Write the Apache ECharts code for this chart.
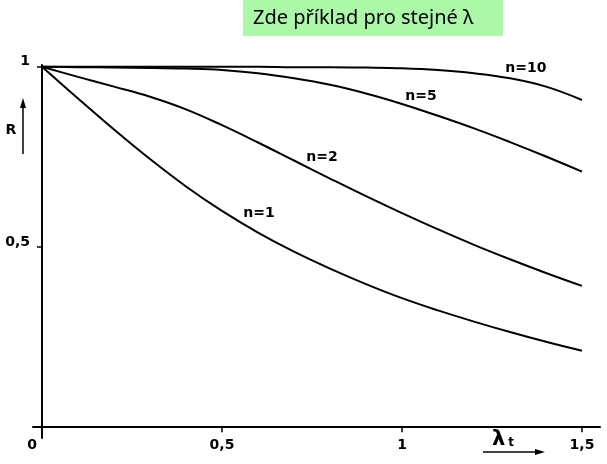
<!DOCTYPE html>
<html>
<head>
<meta charset="utf-8">
<script src="https://cdn.jsdelivr.net/npm/echarts@6/dist/echarts.min.js"></script>
<style>
html,body{margin:0;padding:0;background:#fff;}
#main{width:607px;height:464px;}
</style>
</head>
<body>
<div id="main"></div>
<script>
// λt hodnoty na ose x
var lambdaT = [0, 0.1, 0.2, 0.3, 0.4, 0.5, 0.6, 0.7, 0.8, 0.9, 1.0, 1.1, 1.2, 1.3, 1.4, 1.5];
// spolehlivost R pro n = 1, 2, 5, 10
var rN1  = [1, 0.912, 0.826, 0.744, 0.668, 0.6, 0.54, 0.487, 0.44, 0.397, 0.358, 0.324, 0.293, 0.264, 0.237, 0.212];
var rN2  = [1, 0.972, 0.945, 0.917, 0.882, 0.838, 0.79, 0.74, 0.69, 0.641, 0.594, 0.549, 0.506, 0.466, 0.428, 0.392];
var rN5  = [1, 0.999, 0.998, 0.997, 0.995, 0.991, 0.982, 0.968, 0.95, 0.926, 0.897, 0.864, 0.829, 0.791, 0.751, 0.709];
var rN10 = [1, 1, 1, 1, 1, 1, 1, 0.999, 0.999, 0.998, 0.996, 0.991, 0.982, 0.968, 0.945, 0.908];
var curveNames = ['n=1', 'n=2', 'n=5', 'n=10'];
var xTicks = [0, 0.5, 1, 1.5];
var yTicks = [0.5, 1];

var myChart = echarts.init(document.getElementById('main'));

function pairs(ys){
	var out = [];
	for(var i = 0; i < lambdaT.length; i++){
		out.push([lambdaT[i], ys[i]]);
	}
	return out;
}
function czNum(v){
	return String(v).replace('.', ',');
}
var labelFont = 'DejaVu Sans';
//křivka + popisek
function curveSeries(name, ys, labelCoord){
	return {
		name: name,
		type: 'line',
		data: pairs(ys),
		smooth: 0.4,
		showSymbol: false,
		lineStyle: {color: '#000', width: 2},
		markPoint: {
			symbol: 'circle',
			symbolSize: 1,
			itemStyle: {color: 'rgba(0,0,0,0)'},
			label: {
				show: true, position: 'inside', color: '#000',
				fontFamily: labelFont, fontWeight: 'bold', fontSize: 14,
				formatter: function(p){ return p.name; }
			},
			data: [{name: name, coord: labelCoord}]
		}
	};
}

var option = {
	animation: false,
	grid: {left: 33, right: 7, top: 65, bottom: 26},
	xAxis: {
		type: 'value',
		min: -0.025,
		max: 1.55,
		axisLine: {onZero: true, lineStyle: {color: '#000', width: 2}},
		axisTick: {show: true, customValues: [0.5, 1, 1.5], length: 5, lineStyle: {color: '#000', width: 1.5}},
		axisLabel: {
			customValues: xTicks, margin: 0, color: '#000',
			fontFamily: labelFont, fontWeight: 'bold', fontSize: 14,
			formatter: function(v){
				return v === 0 ? '{z|0}' : czNum(v);
			},
			rich: {z: {padding: [0, 20, 0, 0], fontFamily: labelFont, fontWeight: 'bold', fontSize: 14}}
		},
		splitLine: {show: false}
	},
	yAxis: {
		type: 'value',
		min: -0.03,
		max: 1.005,
		axisLine: {show: true, onZero: true, lineStyle: {color: '#000', width: 2}},
		axisTick: {show: true, customValues: yTicks, length: 5, lineStyle: {color: '#000', width: 1.5}},
		axisLabel: {
			customValues: yTicks, margin: 3, color: '#000',
			fontFamily: labelFont, fontWeight: 'bold', fontSize: 14,
			verticalAlign: 'bottom', lineHeight: 10,
			formatter: czNum
		},
		splitLine: {show: false}
	},
	graphic: [
		{type: 'rect', shape: {x: 243, y: 0, width: 260, height: 36}, style: {fill: '#aaf8a8'}},
		{type: 'text', x: 253, y: 18, style: {
			text: 'Zde příklad pro stejné λ', fill: '#000',
			font: '20px "Noto Sans"', textVerticalAlign: 'middle'
		}},
		//osa R
		{type: 'text', x: 11, y: 130, style: {
			text: 'R', fill: '#000', font: 'bold 14px "DejaVu Sans"',
			textAlign: 'center', textVerticalAlign: 'middle'
		}},
		{type: 'line', shape: {x1: 23, y1: 154, x2: 23, y2: 106}, style: {stroke: '#000', lineWidth: 1.5}},
		{type: 'polygon', shape: {points: [[23, 98], [20, 108], [26, 108]]}, style: {fill: '#000'}},
		//osa λt
		{type: 'text', x: 503, y: 440, style: {
			text: '{l|λ}{t|t}',
			textAlign: 'center', textVerticalAlign: 'middle',
			rich: {
				l: {font: 'bold 21px "DejaVu Sans"', fill: '#000'},
				t: {font: 'bold 12px "DejaVu Sans"', fill: '#000', padding: [5, 0, 0, 3]}
			}
		}},
		{type: 'line', shape: {x1: 483, y1: 452, x2: 536, y2: 452}, style: {stroke: '#000', lineWidth: 1.5}},
		{type: 'polygon', shape: {points: [[545, 452], [535, 449], [535, 455]]}, style: {fill: '#000'}}
	],
	series: [
		curveSeries(curveNames[0], rN1, [0.603, 0.594]),
		curveSeries(curveNames[1], rN2, [0.778, 0.749]),
		curveSeries(curveNames[2], rN5, [1.053, 0.919]),
		curveSeries(curveNames[3], rN10, [1.344, 0.997])
	]
};
myChart.setOption(option);
</script>
</body>
</html>
